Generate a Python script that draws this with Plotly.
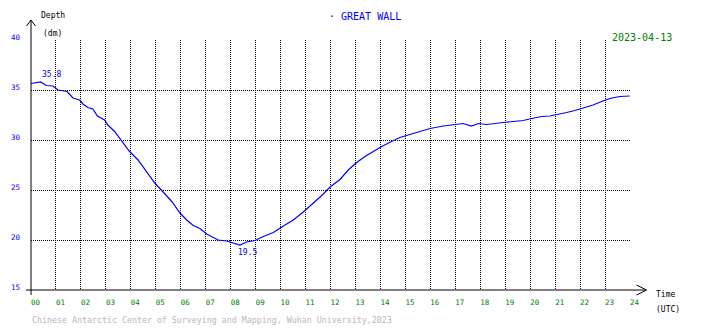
import plotly.graph_objects as go

# Tide gauge record, GREAT WALL station, 2023-04-13 (hours UTC, depth in dm)
hours = [0.00, 0.20, 0.39, 0.61, 0.88, 1.08, 1.25, 1.45, 1.68, 1.95, 2.08, 2.28,
         2.48, 2.66, 2.95, 3.08, 3.35, 3.62, 3.95, 4.29, 4.62, 4.96, 5.22, 5.49,
         5.64, 5.97, 6.24, 6.50, 6.77, 7.04, 7.24, 7.50, 7.84, 8.17, 8.37, 8.64,
         8.97, 9.31, 9.71, 10.11, 10.51, 10.91, 11.31, 11.65, 11.98, 12.38, 12.71,
         13.05, 13.38, 13.71, 14.05, 14.45, 14.78, 15.18, 15.58, 15.99, 16.52,
         16.92, 17.32, 17.65, 17.92, 18.26, 18.52, 18.92, 19.32, 19.72, 20.06,
         20.46, 20.79, 21.13, 21.46, 21.79, 22.19, 22.52, 22.86, 23.19, 23.59, 23.99]
depth = [35.65, 35.70, 35.80, 35.45, 35.40, 35.00, 34.95, 34.85, 34.20, 34.00, 33.60, 33.25,
         33.10, 32.40, 32.00, 31.50, 30.85, 29.95, 28.85, 28.00, 26.85, 25.70, 25.00, 24.20,
         23.85, 22.70, 22.00, 21.45, 21.15, 20.60, 20.35, 20.00, 19.90, 19.65, 19.50, 19.80,
         19.95, 20.35, 20.75, 21.40, 22.00, 22.80, 23.65, 24.45, 25.30, 26.05, 27.00,
         27.75, 28.35, 28.85, 29.35, 29.85, 30.25, 30.55, 30.85, 31.15, 31.40,
         31.50, 31.65, 31.40, 31.65, 31.55, 31.65, 31.75, 31.85, 31.95, 32.15,
         32.35, 32.40, 32.55, 32.75, 32.95, 33.25, 33.50, 33.85, 34.15, 34.35, 34.40]

x_ticks = list(range(0, 25))
x_labels = [f"{h:02d}" for h in x_ticks]
y_ticks = [15, 20, 25, 30, 35, 40]

station = "GREAT WALL"
date_str = "2023-04-13"
credit = "Chinese Antarctic Center of Surveying and Mapping, Wuhan University,2023"

W, H = 710, 328
L, R, T, B = 31, 630, 40, 290
PW, PH = R - L, B - T

BLUE = "#0000ff"
GREEN = "#008000"
FONT = "DejaVu Sans Mono"


def px(x):
    return (x - L) / PW


def py(y):
    return (B - y) / PH


fig = go.Figure()
fig.add_trace(go.Scatter(x=hours, y=depth, mode="lines",
                         line=dict(color=BLUE, width=1.2), hoverinfo="skip"))

i_max = depth.index(max(depth))
i_min = depth.index(min(depth))

annotations = [
    dict(x=hours[i_max], y=depth[i_max], xref="x", yref="y", text=f"{depth[i_max]:.1f}",
         xanchor="left", yanchor="bottom", xshift=-1, yshift=1,
         font=dict(family=FONT, size=8, color=BLUE), showarrow=False),
    dict(x=hours[i_min], y=depth[i_min], xref="x", yref="y", text=f"{depth[i_min]:.1f}",
         xanchor="left", yanchor="top", xshift=-4, yshift=-1,
         font=dict(family=FONT, size=8, color=BLUE), showarrow=False),
    dict(x=px(327), y=py(16.5), xref="paper", yref="paper", text="· " + station,
         xanchor="left", yanchor="middle", font=dict(family=FONT, size=10, color=BLUE),
         showarrow=False),
    dict(x=px(611), y=py(37), xref="paper", yref="paper", text=date_str,
         xanchor="left", yanchor="middle", font=dict(family=FONT, size=10, color=GREEN),
         bgcolor="white", borderpad=0, showarrow=False),
    dict(x=px(38.5), y=py(16), xref="paper", yref="paper", text="Depth",
         xanchor="left", yanchor="middle", font=dict(family=FONT, size=8, color="black"),
         showarrow=False),
    dict(x=px(40.5), y=py(34), xref="paper", yref="paper", text="(dm)",
         xanchor="left", yanchor="middle", font=dict(family=FONT, size=8, color="black"),
         showarrow=False),
    dict(x=px(653.5), y=py(294.5), xref="paper", yref="paper", text="Time",
         xanchor="left", yanchor="middle", font=dict(family=FONT, size=8, color="black"),
         showarrow=False),
    dict(x=px(653.5), y=py(309.5), xref="paper", yref="paper", text="(UTC)",
         xanchor="left", yanchor="middle", font=dict(family=FONT, size=8, color="black"),
         showarrow=False),
    dict(x=px(29.5), y=py(320), xref="paper", yref="paper", text=credit,
         xanchor="left", yanchor="middle", font=dict(family=FONT, size=8.3, color="#b8b8b8"),
         showarrow=False),
]

axis_line = dict(color="black", width=1)
shapes = [
    # x axis with arrow
    dict(type="line", xref="paper", yref="paper", x0=px(26), y0=py(290), x1=px(646), y1=py(290),
         line=axis_line),
    dict(type="path", xref="paper", yref="paper",
         path=f"M {px(636.5)},{py(285)} L {px(646.5)},{py(290)} L {px(636.5)},{py(295)}",
         line=axis_line),
    # y axis with arrow
    dict(type="line", xref="paper", yref="paper", x0=px(31), y0=py(295), x1=px(31), y1=py(20),
         line=axis_line),
    dict(type="path", xref="paper", yref="paper",
         path=f"M {px(26.5)},{py(26)} L {px(31)},{py(20)} L {px(35.5)},{py(26)}",
         line=axis_line),
]

fig.update_layout(
    width=W, height=H,
    margin=dict(l=L, r=W - R, t=T, b=H - B),
    paper_bgcolor="white", plot_bgcolor="white",
    showlegend=False,
    annotations=annotations,
    shapes=shapes,
    xaxis=dict(range=[0, 24], tickmode="array", tickvals=x_ticks, ticktext=x_labels,
               showgrid=True, gridcolor="black", gridwidth=1, griddash="1px,1px",
               zeroline=False, showline=False, ticks="",
               ticklabelposition="outside right", ticklabelstandoff=6,
               tickfont=dict(family=FONT, size=7.5, color=GREEN), fixedrange=True),
    yaxis=dict(range=[15, 40], tickmode="array", tickvals=y_ticks,
               showgrid=True, gridcolor="black", gridwidth=1, griddash="1px,1px",
               zeroline=False, showline=False, ticks="",
               ticklabelposition="outside", ticklabelshift=-3, ticklabelstandoff=10,
               tickfont=dict(family=FONT, size=7.5, color=BLUE), fixedrange=True),
)

fig.write_html("out.html", config={"displayModeBar": False})
